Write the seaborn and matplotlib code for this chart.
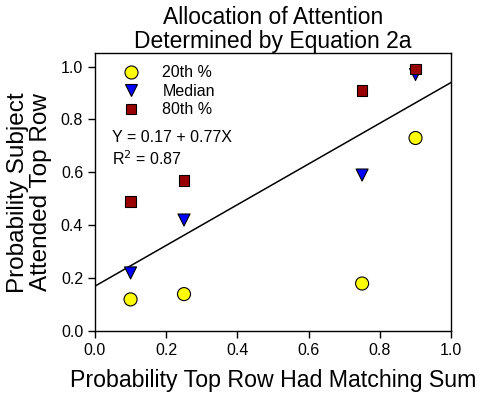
import numpy as np
import pandas as pd
import matplotlib
matplotlib.use("Agg")
import matplotlib.pyplot as plt
import seaborn as sns

# data
x_vals = [0.10, 0.25, 0.75, 0.90]
p20 = [0.12, 0.14, 0.18, 0.73]
median = [0.22, 0.42, 0.59, 0.97]
p80 = [0.49, 0.57, 0.91, 0.99]
intercept = 0.17
slope = 0.77

df = pd.DataFrame({
    'x': x_vals * 3,
    'y': p20 + median + p80,
    'group': ['20th %'] * 4 + ['Median'] * 4 + ['80th %'] * 4,
})

sns.set_style("ticks")
plt.rcParams['font.family'] = ['Liberation Sans', 'DejaVu Sans']
plt.rcParams['text.color'] = 'black'
plt.rcParams['axes.labelcolor'] = 'black'
plt.rcParams['xtick.color'] = 'black'
plt.rcParams['ytick.color'] = 'black'

fig = plt.figure(figsize=(4.82, 3.98), dpi=100)
ax = fig.add_axes([0.197, 0.168, 0.739, 0.698])

# regression line
xl = np.array([0.0, 1.0])
ax.plot(xl, intercept + slope * xl, color='black', lw=1.1, zorder=1)

sns.scatterplot(
    data=df, x='x', y='y', hue='group', style='group', size='group',
    palette={'20th %': '#ffff00', 'Median': '#0000ff', '80th %': '#990000'},
    markers={'20th %': 'o', 'Median': 'v', '80th %': 's'},
    sizes={'20th %': 88, 'Median': 75, '80th %': 58},
    edgecolor='black', linewidth=0.8, ax=ax, zorder=3,
)

ax.set_xlim(0, 1.0)
ax.set_ylim(0, 1.05)
ax.set_xticks(np.arange(0, 1.01, 0.2))
ax.set_yticks(np.arange(0, 1.01, 0.2))
ax.xaxis.set_major_formatter(matplotlib.ticker.FormatStrFormatter('%.1f'))
ax.yaxis.set_major_formatter(matplotlib.ticker.FormatStrFormatter('%.1f'))
ax.tick_params(direction='out', length=5, width=1, labelsize=11.5, color='black')
for sp in ax.spines.values():
    sp.set_color('black')
    sp.set_linewidth(1)

ax.set_title('Allocation of Attention\nDetermined by Equation 2a', fontsize=16.5, pad=3, linespacing=1.08)
ax.set_xlabel('Probability Top Row Had Matching Sum', fontsize=16.7, labelpad=8)
ax.set_ylabel('Probability Subject\nAttended Top Row', fontsize=17.5, labelpad=6, linespacing=1.08)

leg = ax.legend(loc='upper left', frameon=False, fontsize=11.5, handletextpad=0.95,
                borderaxespad=0.2, labelspacing=0.22, bbox_to_anchor=(0.03, 0.992))
ax.text(0.049, 0.697, 'Y = 0.17 + 0.77X', transform=ax.transAxes, fontsize=11.5, va='center')
ax.text(0.049, 0.621, r'R$^2$ = 0.87', transform=ax.transAxes, fontsize=11.5, va='center')

fig.savefig('out.png', dpi=100)
